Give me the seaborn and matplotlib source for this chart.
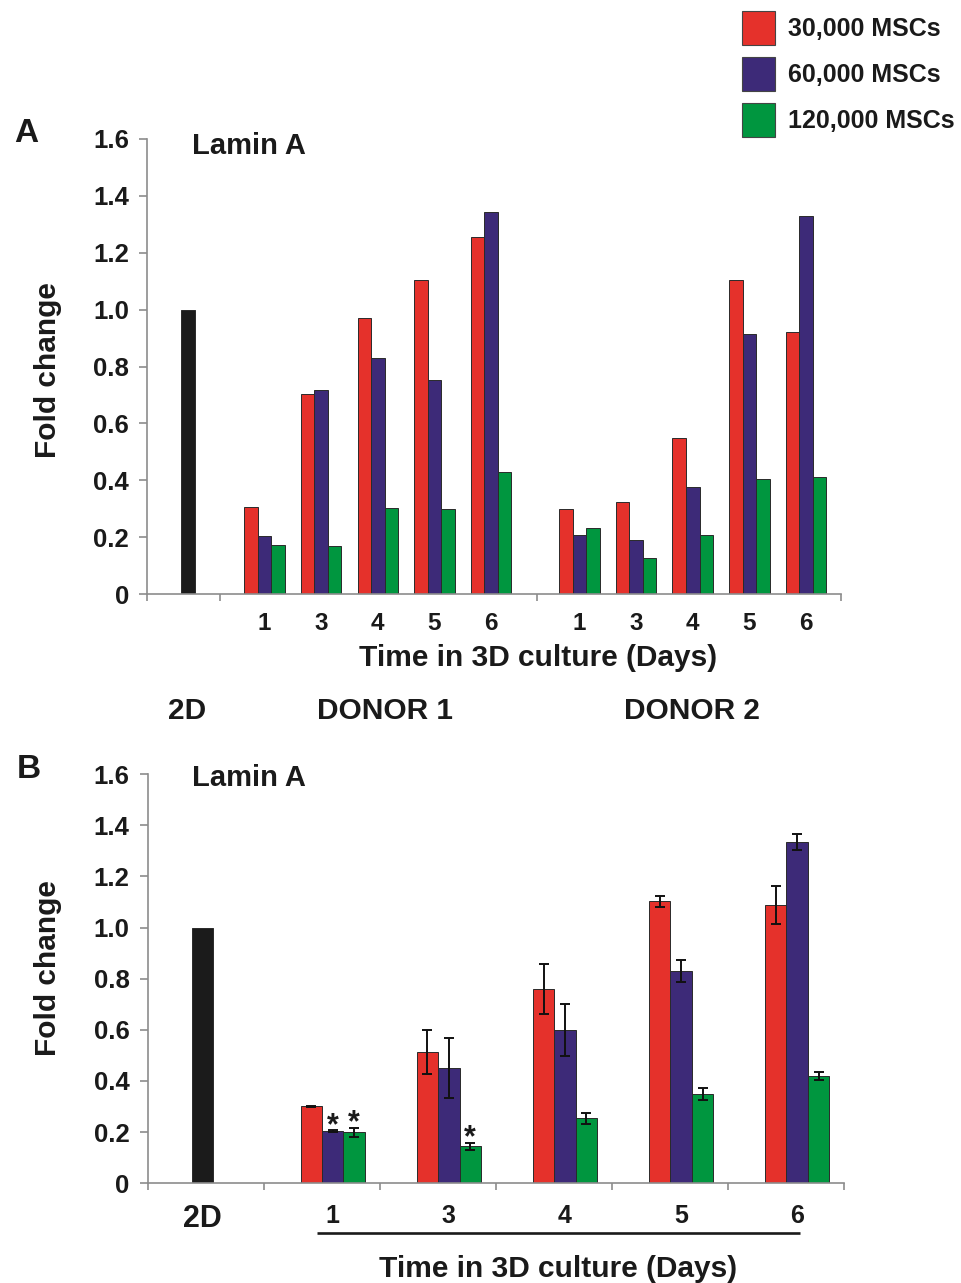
import numpy as np
import pandas as pd
import matplotlib
matplotlib.use("Agg")
import matplotlib.pyplot as plt
import seaborn as sns
from matplotlib.patches import Patch

# ---- data ----
densities = ["30,000 MSCs", "60,000 MSCs", "120,000 MSCs"]
days = ["1", "3", "4", "5", "6"]
ref_2d = 1.0

# panel A: the two donors shown separately
donor1_30k = [0.306, 0.704, 0.972, 1.105, 1.254]
donor1_60k = [0.205, 0.718, 0.830, 0.751, 1.343]
donor1_120k = [0.172, 0.170, 0.303, 0.298, 0.428]
donor2_30k = [0.299, 0.323, 0.548, 1.104, 0.923]
donor2_60k = [0.209, 0.191, 0.375, 0.915, 1.328]
donor2_120k = [0.233, 0.128, 0.207, 0.405, 0.411]

# panel B: pooled mean with error
mean_30k = [0.301, 0.513, 0.759, 1.102, 1.088]
mean_60k = [0.204, 0.452, 0.599, 0.832, 1.334]
mean_120k = [0.200, 0.145, 0.254, 0.350, 0.418]
err_30k = [0.003, 0.086, 0.097, 0.020, 0.076]
err_60k = [0.003, 0.118, 0.103, 0.043, 0.030]
err_120k = [0.018, 0.013, 0.021, 0.024, 0.016]
signif_30k = [0, 0, 0, 0, 0]
signif_60k = [1, 0, 0, 0, 0]
signif_120k = [1, 1, 0, 0, 0]

colors = ["#E5312B", "#3D2A78", "#00963F"]
black = "#1b1b1b"
gray = "#8c8c8c"
txt = "#1a1a1a"

sns.set_style("ticks")
plt.rcParams["font.family"] = ["Liberation Sans", "DejaVu Sans"]
plt.rcParams["font.weight"] = "bold"
plt.rcParams["text.color"] = txt
plt.rcParams["xtick.color"] = txt
plt.rcParams["ytick.color"] = txt

W, H = 962, 1283
fig = plt.figure(figsize=(W / 100, H / 100), dpi=100)


def ftext(x, y, s, **kw):
    fig.text(x / W, 1 - y / H, s, fontweight="bold", **kw)


axA = fig.add_axes([147 / W, 1 - 594 / H, (841 - 147) / W, (594 - 139) / H])
axB = fig.add_axes([147.7 / W, 1 - 1183.3 / H, (844.3 - 147.7) / W, (1183.3 - 774.1) / H])

bar_kw = dict(edgecolor="#2a2a2a", linewidth=0.7, errorbar=None, legend=False,
              native_scale=True, saturation=1)

# ---------------- panel A ----------------
rows = []
for start, series in [(1.35, [donor1_30k, donor1_60k, donor1_120k]),
                      (6.91, [donor2_30k, donor2_60k, donor2_120k])]:
    for dens, vals in zip(densities, series):
        for i, v in enumerate(vals):
            rows.append(dict(pos=start + i, density=dens, value=v))
dfA = pd.DataFrame(rows)

sns.barplot(data=dfA, x="pos", y="value", hue="density", hue_order=densities,
            palette=colors, width=0.715, ax=axA, **bar_kw)
sns.barplot(x=[0.0], y=[ref_2d], color=black, width=0.247, ax=axA, **bar_kw)

centersA = sorted(dfA["pos"].unique())
axA.set_xticks(centersA)
axA.set_xticklabels(days * 2)
axA.set_xticks([-0.724, 0.565, 6.161, 11.527], minor=True)
axA.set_xlim(-0.724, 11.527)

# ---------------- panel B ----------------
rows = []
for dens, vals in zip(densities, [mean_30k, mean_60k, mean_120k]):
    for i, v in enumerate(vals):
        rows.append(dict(pos=1.0 + i, density=dens, value=v))
dfB = pd.DataFrame(rows)

sns.barplot(data=dfB, x="pos", y="value", hue="density", hue_order=densities,
            palette=colors, width=0.554, ax=axB, **bar_kw)
bar_sets = list(axB.containers[:3])
sns.barplot(x=[-0.125], y=[ref_2d], color=black, width=0.181, ax=axB, **bar_kw)

for cont, errs, sig in zip(bar_sets, [err_30k, err_60k, err_120k],
                           [signif_30k, signif_60k, signif_120k]):
    xs = [p.get_x() + p.get_width() / 2 for p in cont]
    hs = [p.get_height() for p in cont]
    axB.errorbar(xs, hs, yerr=errs, fmt="none", ecolor="#111111",
                 elinewidth=1.4, capsize=3.8, capthick=1.4, zorder=5)
    for x, h, e, s in zip(xs, hs, errs, sig):
        if s:
            axB.annotate("*", (x, h + e), xytext=(0, -2.5), textcoords="offset points",
                         ha="center", va="baseline", fontsize=22, fontweight="bold")

centersB = [-0.125] + sorted(dfB["pos"].unique())
axB.set_xticks(centersB)
axB.set_xticklabels(["2D"] + days)
axB.set_xticks(np.arange(7) - 0.594, minor=True)
axB.set_xlim(-0.594, 5.406)
axB.plot([0.867, 5.024], [-0.122, -0.122], color="#1a1a1a", lw=1.9,
         transform=axB.get_xaxis_transform(), clip_on=False, solid_capstyle="butt")

# ---------------- shared styling ----------------
for ax in (axA, axB):
    sns.despine(ax=ax)
    ax.set_xlabel("")
    ax.set_ylabel("")
    ax.set_ylim(0, 1.6)
    ax.set_yticks(np.arange(0, 1.61, 0.2))
    ax.set_yticklabels(["0"] + [f"{v:.1f}" for v in np.arange(0.2, 1.61, 0.2)])
    for side in ("left", "bottom"):
        ax.spines[side].set_color(gray)
        ax.spines[side].set_linewidth(1.2)
    ax.tick_params(axis="y", direction="out", length=6, width=1.2, color=gray,
                   labelsize=18.5, pad=7, left=True)
    ax.tick_params(axis="x", which="minor", direction="out", length=5, width=1.2,
                   color=gray, bottom=True)

axA.tick_params(axis="x", which="major", length=0, pad=13, labelsize=17.5)
axB.tick_params(axis="x", which="major", length=0, pad=15, labelsize=18)
axB.get_xticklabels()[0].set_fontsize(22)

# ---------------- text ----------------
ftext(26.5, 141.7, "A", ha="center", va="baseline", fontsize=24)
ftext(29, 777.6, "B", ha="center", va="baseline", fontsize=24)
ftext(192, 154.3, "Lamin A", ha="left", va="baseline", fontsize=21)
ftext(192, 786.4, "Lamin A", ha="left", va="baseline", fontsize=21)
ftext(48, 370, "Fold change", ha="center", va="center", rotation=90, fontsize=21.5)
ftext(48, 968.5, "Fold change", ha="center", va="center", rotation=90, fontsize=21.5)
ftext(538, 666, "Time in 3D culture (Days)", ha="center", va="baseline", fontsize=21.5)
ftext(558, 1276.7, "Time in 3D culture (Days)", ha="center", va="baseline", fontsize=21.5)
ftext(187, 719.3, "2D", ha="center", va="baseline", fontsize=21.5)
ftext(385.5, 719.3, "DONOR 1", ha="center", va="baseline", fontsize=21.5)
ftext(692.5, 719.3, "DONOR 2", ha="center", va="baseline", fontsize=21.5)

handles = [Patch(facecolor=c, edgecolor="#444444", linewidth=0.8) for c in colors]
fig.legend(handles, densities, loc="upper left", bbox_to_anchor=(742 / W, 1 - 11 / H),
           frameon=False, prop={"weight": "bold", "size": 18}, handlelength=1.32,
           handleheight=1.72, handletextpad=0.52, labelspacing=0.48, borderpad=0,
           borderaxespad=0)

fig.savefig("out.png", dpi=100)
